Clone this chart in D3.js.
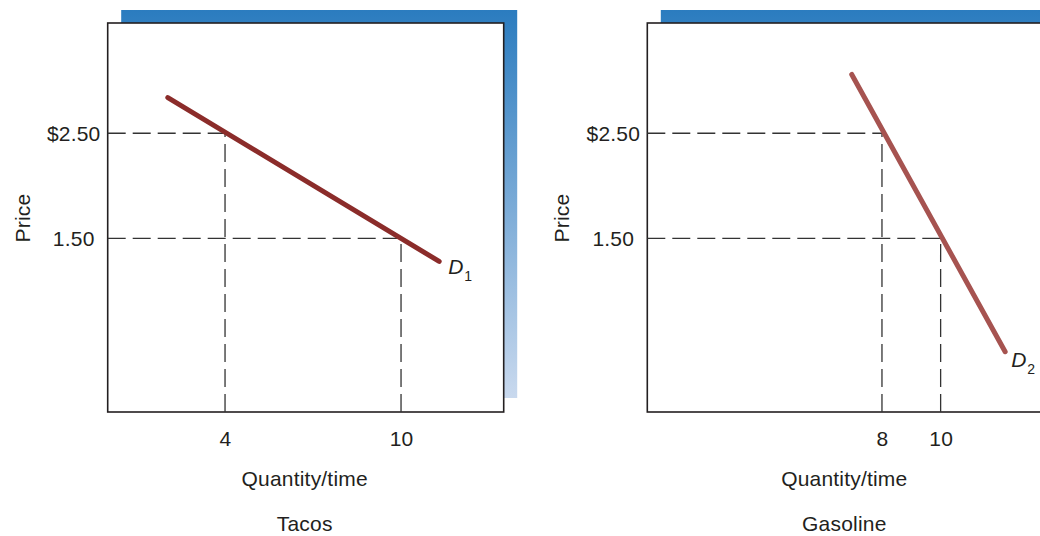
<!DOCTYPE html>
<html>
<head>
<meta charset="utf-8">
<script src="https://cdn.jsdelivr.net/npm/d3@7"></script>
<style>
  html, body { margin: 0; padding: 0; background: #fff; }
  svg { display: block; }
  text { font-family: "Liberation Sans", Arial, Helvetica, sans-serif; fill: #231f20; }
</style>
</head>
<body>
<svg id="chart" width="1040" height="536"></svg>
<script>
// Panel titles
const panelTitles = ["Tacos", "Gasoline"];
// Price levels marked on each vertical axis
const priceTicks = [2.5, 1.5];
const priceTickLabels = ["$2.50", "1.50"];
// Quantities demanded at $2.50 and at $1.50
const tacoQuantities = [4, 10];
const gasQuantities = [8, 10];
// Demand curve end points [quantity, price]
const tacoDemand = [[2.05, 2.84], [11.3, 1.28]];
const gasDemand = [[6.97, 3.06], [12.2, 0.42]];
// Curve subscripts
const curveSubscripts = ["1", "2"];

const panels = [
  { title: panelTitles[0], qty: tacoQuantities, demand: tacoDemand, sub: curveSubscripts[0],
    left: 107.7, color: "#8b2c2a", labelDx: 9, labelDy: 12.5 },
  { title: panelTitles[1], qty: gasQuantities, demand: gasDemand, sub: curveSubscripts[1],
    left: 647.3, color: "#a65350", labelDx: 6, labelDy: 15 }
];

const svg = d3.select("#chart");
const plotTop = 23, W = 396, H = 389;
const FONT = "21px", SPACING = "0.2px";

const defs = svg.append("defs");
const grad = defs.append("linearGradient")
  .attr("id", "band").attr("x1", 0).attr("y1", 0).attr("x2", 0).attr("y2", 1);
grad.append("stop").attr("offset", 0).attr("stop-color", "#2b7cbf");
grad.append("stop").attr("offset", 1).attr("stop-color", "#c9d9ee");

const x = d3.scaleLinear().domain([0, 13.5]).range([0, W]);
const y = d3.scaleLinear().domain([-0.154, 3.55]).range([H, 0]);

panels.forEach(p => {
  const g = svg.append("g").attr("transform", `translate(${p.left},${plotTop})`);

  // shaded band offset behind the plot frame
  g.append("rect")
    .attr("x", 13.5).attr("y", -13).attr("width", W).attr("height", H - 1)
    .attr("fill", "url(#band)");

  // plot frame
  g.append("rect")
    .attr("x", 0).attr("y", 0).attr("width", W).attr("height", H)
    .attr("fill", "#fff").attr("stroke", "#231f20").attr("stroke-width", 1.6);

  // guide lines from each price to its quantity
  const dash = "18,7";
  priceTicks.forEach((pr, i) => {
    const q = p.qty[i];
    g.append("line")
      .attr("x1", x(0)).attr("x2", x(q)).attr("y1", y(pr)).attr("y2", y(pr))
      .attr("stroke", "#333").attr("stroke-width", 1.3).attr("stroke-dasharray", dash);
    g.append("line")
      .attr("x1", x(q)).attr("x2", x(q)).attr("y1", H).attr("y2", y(pr))
      .attr("stroke", "#333").attr("stroke-width", 1.3).attr("stroke-dasharray", dash);
  });

  // price axis labels
  const yAxis = g.append("g").call(
    d3.axisLeft(y).tickValues(priceTicks).tickSize(0)
      .tickFormat((d, i) => priceTickLabels[i]));
  yAxis.select(".domain").remove();
  yAxis.selectAll("text")
    .attr("x", -34).attr("dy", "0.36em")
    .attr("text-anchor", "middle")
    .style("font-size", FONT).style("letter-spacing", SPACING)
    .attr("fill", "#231f20");

  // quantity axis labels
  const xAxis = g.append("g").attr("transform", `translate(0,${H})`).call(
    d3.axisBottom(x).tickValues(p.qty).tickSize(0).tickFormat(d3.format("d")));
  xAxis.select(".domain").remove();
  xAxis.selectAll("text")
    .attr("y", 34).attr("dy", 0)
    .style("font-size", FONT).style("letter-spacing", SPACING)
    .attr("fill", "#231f20");

  // demand curve
  const line = d3.line().x(d => x(d[0])).y(d => y(d[1]));
  g.append("path")
    .datum(p.demand)
    .attr("d", line)
    .attr("fill", "none").attr("stroke", p.color)
    .attr("stroke-width", 5).attr("stroke-linecap", "round");

  const end = p.demand[p.demand.length - 1];
  const lbl = g.append("text")
    .attr("x", x(end[0]) + p.labelDx).attr("y", y(end[1]) + p.labelDy)
    .style("font-size", "21px").style("font-style", "italic");
  lbl.append("tspan").text("D");
  lbl.append("tspan").attr("dy", 7).attr("dx", 1)
    .style("font-style", "normal").style("font-size", "14px").text(p.sub);

  // axis titles
  g.append("text")
    .attr("transform", `translate(-78,${H / 2 + 0.5}) rotate(-90)`)
    .attr("text-anchor", "middle")
    .style("font-size", FONT).style("letter-spacing", SPACING)
    .text("Price");

  g.append("text")
    .attr("x", W / 2 - 1).attr("y", 486 - plotTop)
    .attr("text-anchor", "middle")
    .style("font-size", FONT).style("letter-spacing", SPACING)
    .text("Quantity/time");

  g.append("text")
    .attr("x", W / 2 - 1).attr("y", 531 - plotTop)
    .attr("text-anchor", "middle")
    .style("font-size", FONT).style("letter-spacing", SPACING)
    .text(p.title);
});
</script>
</body>
</html>
